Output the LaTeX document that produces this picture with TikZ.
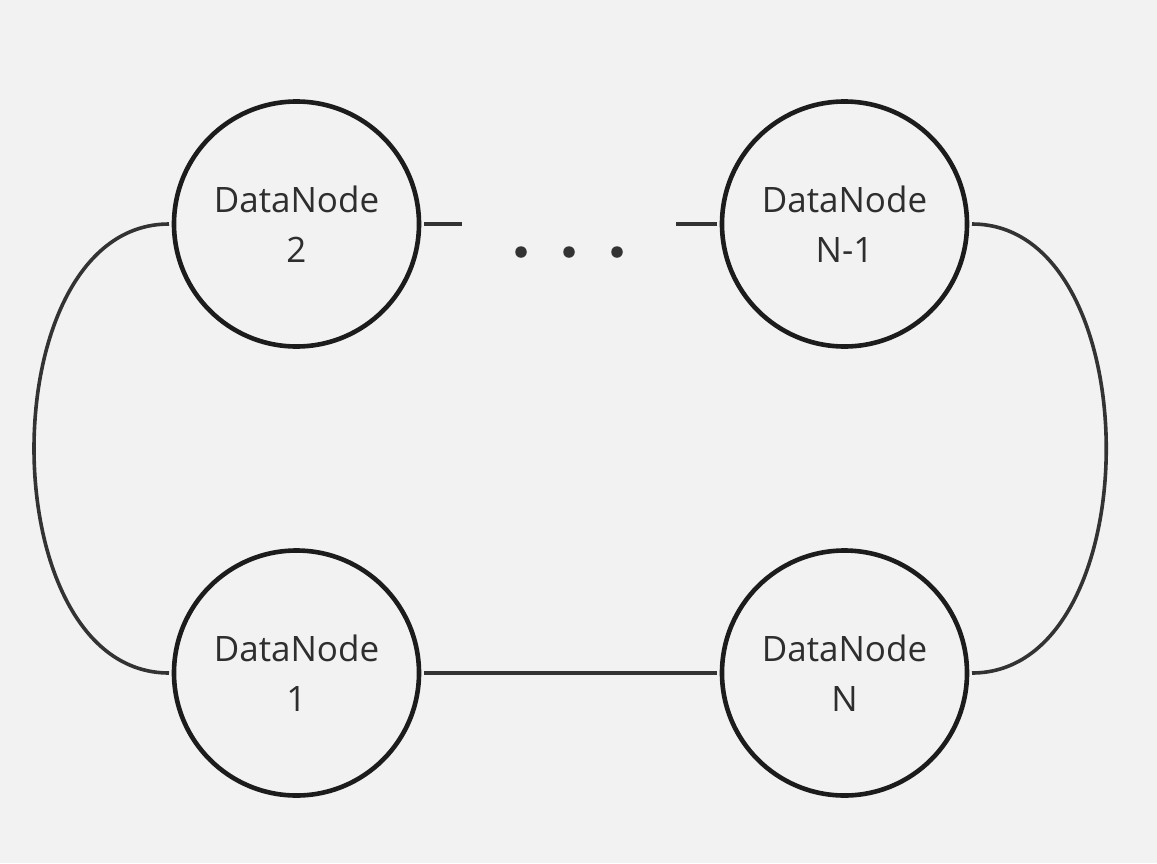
\documentclass[tikz,border=0pt]{standalone}
\usepackage{fontspec}
\setmainfont{Open Sans}
\definecolor{bg}{HTML}{F2F2F2}
\definecolor{circ}{HTML}{1C1C1C}
\definecolor{lnk}{HTML}{333333}
\definecolor{txt}{HTML}{2E2E2E}
\begin{document}
\begin{tikzpicture}[x=1pt,y=-1pt,
  dn/.style={circle, draw=circ, line width=4.6pt, fill=bg, minimum size=245pt,
    inner sep=0pt, outer sep=5pt, align=center,
    font=\fontsize{35}{50}\selectfont, text=txt},
  link/.style={draw=lnk, line width=3.6pt},
  dotmark/.style={circle, fill=lnk, minimum size=11.5pt, inner sep=0pt}]
\fill[bg] (0,0) rectangle (1157,863);
\useasboundingbox (0,0) rectangle (1157,863);
\node[dn] (d2)  at (296.5,224) {DataNode\\2};
\node[dn] (dN1) at (844.5,224) {DataNode\\N-1};
\node[dn] (d1)  at (296.5,673) {DataNode\\1};
\node[dn] (dN)  at (844.5,673) {DataNode\\N};
\coordinate (gl) at (462,224);
\coordinate (gr) at (676,224);
\node[dotmark] (p1) at (521,252) {};
\node[dotmark] (p2) at (569,252) {};
\node[dotmark] (p3) at (617,252) {};
\draw[link] (d1.east) -- (dN.west);
\draw[link] (d2.east) -- (gl);
\draw[link] (gr) -- (dN1.west);
\draw[link] (d2.west) .. controls ++(-180,0) and ++(-180,0) .. (d1.west);
\draw[link] (dN1.east) .. controls ++(179,0) and ++(179,0) .. (dN.east);
\end{tikzpicture}
\end{document}
